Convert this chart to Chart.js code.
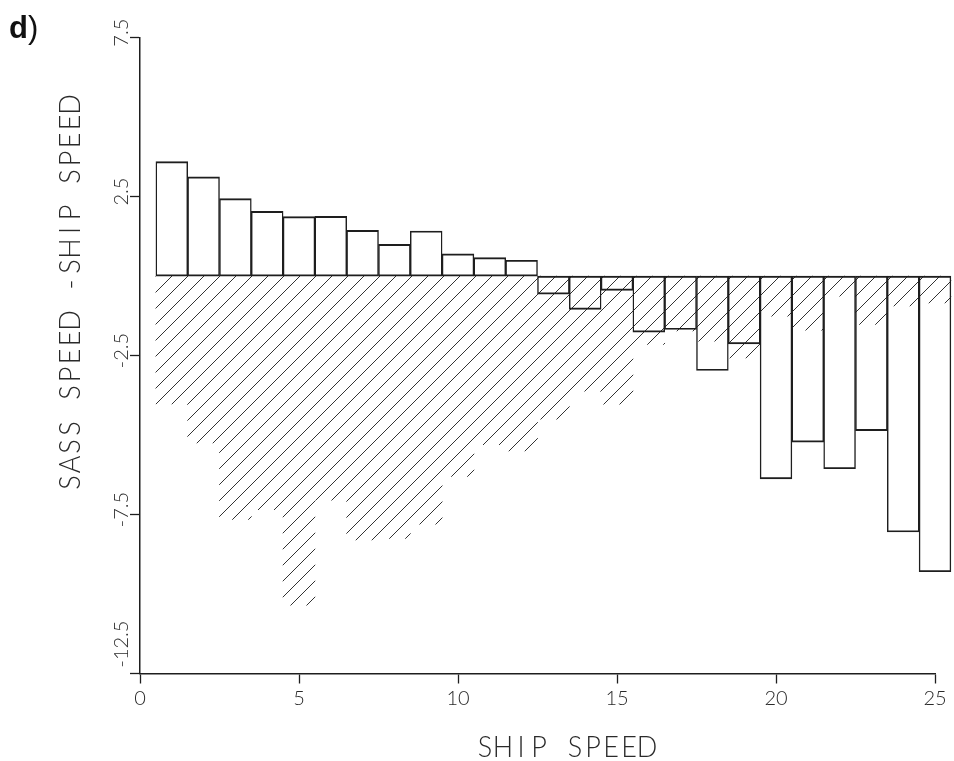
<!DOCTYPE html>
<html>
<head>
<meta charset="utf-8">
<script src="https://cdn.jsdelivr.net/npm/chart.js@4.4.1/dist/chart.umd.min.js"></script>
<style>
  html, body { margin: 0; padding: 0; background: #fff; }
  #wrap { width: 954px; height: 761px; }
</style>
</head>
<body>
<div id="wrap"><canvas id="chart" width="954" height="761"></canvas></div>
<script>
// ship speed bins (centre of each 1-unit class)
const speeds = [1, 2, 3, 4, 5, 6, 7, 8, 9, 10, 11, 12, 13, 14, 15, 16, 17, 18, 19, 20, 21, 22, 23, 24, 25];

// outlined bars: SASS speed - ship speed
const meanDiff = [3.60, 3.12, 2.44, 2.04, 1.87, 1.88, 1.44, 1.00, 1.42, 0.70, 0.58, 0.50,
  -0.57, -1.05, -0.45, -1.76, -1.68, -2.97, -2.13, -6.38, -5.22, -6.06, -4.86, -8.05, -9.30];

// hatched bars
const lowDiff = [-4.02, -5.25, -7.65, -7.35, -10.35, -7.05, -8.30, -8.25, -7.80, -6.30, -5.30, -5.50,
  -4.50, -3.62, -4.03, -2.15, -1.72, -2.05, -2.57, -1.26, -1.70, -0.63, -1.52, -0.94, -0.84];

const xTicks = [0, 5, 10, 15, 20, 25];
const yTicks = [-12.5, -7.5, -2.5, 2.5, 7.5];

const xTitle = 'SHIP SPEED';
const yTitle = 'SASS SPEED -SHIP SPEED';
const panelLabel = 'd';

const INK = '#1e1e1e';
const TEXT_INK = '#2a2a2a';
const PLOT_FONT = 'Lato, "DejaVu Sans", sans-serif';

function makeHatch() {
  const s = 16;
  const c = document.createElement('canvas');
  c.width = s;
  c.height = s;
  const g = c.getContext('2d');
  g.strokeStyle = '#333';
  g.lineWidth = 1;
  g.beginPath();
  g.moveTo(-2, s + 2); g.lineTo(s + 2, -2);
  g.moveTo(-2, 2); g.lineTo(2, -2);
  g.moveTo(s - 2, s + 2); g.lineTo(s + 2, s - 2);
  g.stroke();
  return g.createPattern(c, 'repeat');
}

// plotter style lettering: fixed advance per character
function drawSpaced(ctx, text, cx, baseline, advance, sx) {
  const start = cx - advance * text.length / 2;
  for (let i = 0; i < text.length; i++) {
    const ch = text[i];
    if (ch === ' ') continue;
    ctx.save();
    ctx.translate(start + advance * (i + 0.5), baseline);
    ctx.scale(sx, 1);
    ctx.fillText(ch, 0, 0);
    ctx.restore();
  }
}

const plotText = {
  id: 'plotText',
  afterDraw(chart) {
    const ctx = chart.ctx;
    const area = chart.chartArea;
    const yScale = chart.scales.y;
    ctx.save();
    ctx.fillStyle = TEXT_INK;
    ctx.textAlign = 'center';
    ctx.textBaseline = 'alphabetic';

    // y tick labels, rotated, kept clear of the x axis
    ctx.font = `300 20px ${PLOT_FONT}`;
    yTicks.forEach(v => {
      const label = v.toFixed(1);
      const half = ctx.measureText(label).width / 2;
      const py = Math.min(yScale.getPixelForValue(v) - 5, area.bottom - 6 - half);
      ctx.save();
      ctx.translate(area.left - 12, py);
      ctx.rotate(-Math.PI / 2);
      ctx.fillText(label, 0, 0);
      ctx.restore();
    });

    // axis titles
    ctx.font = `300 30px ${PLOT_FONT}`;
    drawSpaced(ctx, xTitle, 566, 757, 18, 0.9);
    ctx.save();
    ctx.translate(80, 293.5);
    ctx.rotate(-Math.PI / 2);
    drawSpaced(ctx, yTitle, 0, 0, 18, 0.9);
    ctx.restore();

    // panel letter
    ctx.fillStyle = '#111';
    ctx.textAlign = 'left';
    ctx.font = 'bold 31px "Liberation Sans", Arial, sans-serif';
    ctx.fillText(panelLabel, 9, 38);
    ctx.font = '31px "Liberation Sans", Arial, sans-serif';
    ctx.fillText(')', 28, 38);
    ctx.restore();
  }
};

const hatch = makeHatch();

function axisGrid() {
  return {
    offset: false,
    drawOnChartArea: false,
    drawTicks: true,
    tickLength: 10,
    tickColor: INK,
    tickWidth: 1.3
  };
}
const axisBorder = { display: true, color: INK, width: 1.5 };

new Chart(document.getElementById('chart'), {
  type: 'bar',
  data: {
    datasets: [
      {
        label: 'mean',
        data: speeds.map((x, i) => ({ x: x, y: meanDiff[i] })),
        backgroundColor: 'rgba(0,0,0,0)',
        borderColor: INK,
        borderWidth: { top: 1.3, bottom: 1.3, left: 0.8, right: 0.8 },
        borderSkipped: false,
        grouped: false,
        barPercentage: 1,
        categoryPercentage: 1,
        clip: false,
        order: 1
      },
      {
        label: 'low',
        data: speeds.map((x, i) => ({ x: x, y: lowDiff[i] })),
        backgroundColor: hatch,
        borderWidth: 0,
        grouped: false,
        barPercentage: 1,
        categoryPercentage: 1,
        clip: false,
        order: 2
      }
    ]
  },
  options: {
    responsive: false,
    animation: false,
    events: [],
    layout: { padding: { top: 37.7, right: 19, left: 0, bottom: 0 } },
    plugins: {
      legend: { display: false },
      tooltip: { enabled: false },
      title: { display: false }
    },
    scales: {
      x: {
        type: 'linear',
        min: 0,
        max: 25,
        offset: false,
        afterBuildTicks: s => { s.ticks = xTicks.map(v => ({ value: v })); },
        afterFit: s => { s.height = 761 - 673.5; },
        grid: axisGrid(),
        border: axisBorder,
        ticks: {
          autoSkip: false,
          maxRotation: 0,
          padding: 3,
          color: TEXT_INK,
          font: { family: PLOT_FONT, size: 20, weight: 300 }
        }
      },
      y: {
        type: 'linear',
        min: -12.5,
        max: 7.5,
        afterBuildTicks: s => { s.ticks = yTicks.map(v => ({ value: v })); },
        afterFit: s => { s.width = 140; },
        grid: axisGrid(),
        border: axisBorder,
        ticks: { display: false }
      }
    }
  },
  plugins: [plotText]
});
</script>
</body>
</html>
